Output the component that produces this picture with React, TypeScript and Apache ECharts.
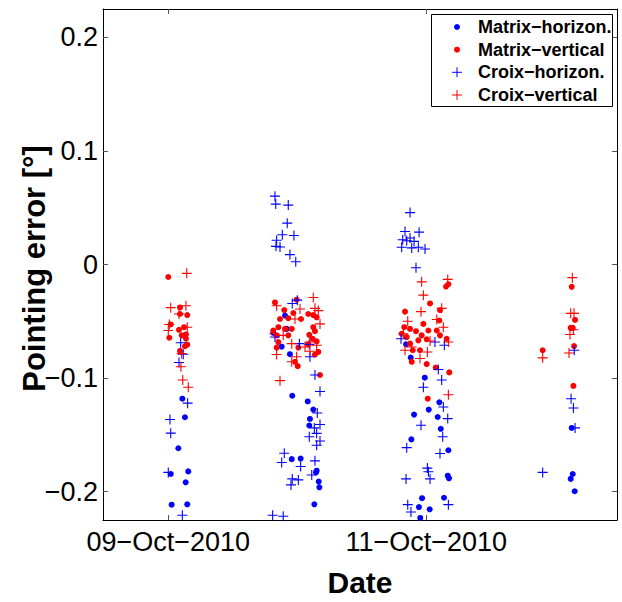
import React, { useEffect, useRef } from "react";
import * as echarts from "echarts";

// x: day of October 2010 (decimal), y: pointing error in degrees
const matrixHorizon: [number, number][] = [
  [9.109, -0.1182], [9.129, -0.1345], [9.078, -0.1618], [9.019, -0.1845], [9.155, -0.1822],
  [9.135, -0.1918], [9.026, -0.2115], [9.147, -0.2112],
  [9.905, -0.045], [9.918, -0.0567], [9.814, -0.0602], [9.879, -0.0724], [9.943, -0.079],
  [9.961, -0.1156], [10.081, -0.1206], [10.124, -0.1278], [10.098, -0.136], [10.093, -0.1418],
  [9.957, -0.1714], [10.026, -0.1709], [10.15, -0.1816], [10.145, -0.1831], [10.166, -0.1912],
  [10.171, -0.1962], [10.132, -0.2112],
  [10.879, -0.082], [10.843, -0.0703], [10.988, -0.0997], [11.101, -0.1214], [11.019, -0.1278],
  [10.905, -0.1322], [11.088, -0.1343], [11.112, -0.1447], [10.884, -0.154], [11.171, -0.1636],
  [11.166, -0.186], [11.176, -0.1883], [10.967, -0.2058], [11.137, -0.2054], [10.943, -0.2136],
  [11.026, -0.2156], [10.953, -0.2232],
  [12.127, -0.1439], [12.135, -0.1845], [12.119, -0.1888], [12.15, -0.1997],
];

const matrixVertical: [number, number][] = [
  [9.0, -0.011], [9.091, -0.0378], [9.147, -0.0445], [9.019, -0.0528], [9.008, -0.0645],
  [9.083, -0.0575], [9.122, -0.0552], [9.137, -0.0616], [9.104, -0.0624], [9.137, -0.0654],
  [9.147, -0.0706], [9.129, -0.072], [9.091, -0.0761], [9.091, -0.0436],
  [9.827, -0.0334], [9.995, -0.031], [9.899, -0.0401], [9.969, -0.0427], [9.866, -0.048],
  [9.93, -0.0473], [10.029, -0.048], [10.085, -0.0436], [10.124, -0.0445], [10.15, -0.0465],
  [9.853, -0.0552], [9.905, -0.0567], [9.957, -0.0567], [9.814, -0.0581], [10.124, -0.0552],
  [10.137, -0.0587], [9.84, -0.0624], [9.93, -0.0624], [10.093, -0.0619], [10.119, -0.0654],
  [9.853, -0.0683], [10.15, -0.0677], [9.84, -0.0732], [10.008, -0.0732], [10.085, -0.0703],
  [10.163, -0.077], [10.137, -0.0793], [9.982, -0.0857], [10.003, -0.0895], [10.176, -0.0973],
  [11.171, -0.0174], [11.153, -0.0194], [11.029, -0.0343], [10.835, -0.0415], [11.106, -0.0401],
  [11.101, -0.0493], [10.977, -0.0523], [11.016, -0.0581], [10.829, -0.0552], [10.874, -0.0567],
  [10.92, -0.0587], [10.809, -0.061], [10.848, -0.0639], [10.964, -0.0624], [11.003, -0.0659],
  [11.081, -0.0581], [11.106, -0.0624], [11.158, -0.0654], [10.938, -0.0668], [10.874, -0.0697],
  [10.895, -0.0755], [10.951, -0.0755], [10.887, -0.0857], [11.003, -0.0877], [11.073, -0.0907],
  [11.178, -0.095], [11.011, -0.1182],
  [12.127, -0.0197], [12.153, -0.0488], [12.119, -0.0558], [12.135, -0.0558], [12.145, -0.0718],
  [11.902, -0.0755], [12.14, -0.1069],
];

const croixHorizon: [number, number][] = [
  [9.096, -0.0689], [9.116, -0.079], [9.083, -0.0863], [9.15, -0.1221], [9.013, -0.1365],
  [9.019, -0.1485], [9.0, -0.1831], [9.109, -0.2208],
  [9.827, 0.0602], [9.833, 0.0532], [9.93, 0.0523], [9.922, 0.0364], [9.884, 0.0262],
  [9.974, 0.0256], [9.84, 0.0213], [9.835, 0.016], [9.866, 0.0154], [9.943, 0.0087], [9.988, 0.0024],
  [9.961, -0.0343], [10.0, -0.0314], [10.016, -0.0697], [10.093, -0.0703], [10.098, -0.0813],
  [9.827, -0.0639], [10.137, -0.0973], [10.176, -0.1119], [10.155, -0.1308], [10.176, -0.1409],
  [10.132, -0.1439], [10.15, -0.1487], [10.093, -0.1517], [10.176, -0.1554], [10.15, -0.1592],
  [9.899, -0.1662], [9.879, -0.1744], [10.137, -0.1729], [10.026, -0.1779], [10.112, -0.1854],
  [9.961, -0.1888], [10.008, -0.1897], [9.951, -0.1941], [9.809, -0.2208], [9.891, -0.2217],
  [10.874, 0.0457], [10.835, 0.0291], [10.944, 0.0285], [10.817, 0.0218], [10.874, 0.0233],
  [10.848, 0.0209], [10.905, 0.0204], [10.809, 0.0152], [10.887, 0.0146], [10.938, 0.0152],
  [10.99, 0.0137], [10.92, -0.0029],
  [11.093, -0.0924], [11.119, -0.1017], [10.977, -0.1081], [11.132, -0.1255], [11.166, -0.1357],
  [10.959, -0.1415], [11.127, -0.1517], [10.848, -0.1613], [11.106, -0.1665], [11.008, -0.1793],
  [11.016, -0.1825], [10.843, -0.1888], [11.029, -0.1888], [10.856, -0.2115], [11.171, -0.2115],
  [10.881, -0.218], [11.067, -0.0683], [11.14, -0.0711], [10.804, -0.0654],
  [12.147, -0.0755], [12.122, -0.1182], [12.14, -0.1264], [12.153, -0.1439], [11.902, -0.1831],
];

const croixVertical: [number, number][] = [
  [9.143, -0.0078], [9.019, -0.038], [9.137, -0.0363], [9.083, -0.0436], [9.008, -0.0528],
  [9.0, -0.0581], [9.147, -0.0552], [9.104, -0.0785], [9.098, -0.0901], [9.112, -0.1017],
  [9.155, -0.1081],
  [10.124, -0.029], [9.84, -0.0363], [10.021, -0.0392], [10.137, -0.0386], [10.163, -0.0406],
  [9.982, -0.048], [10.176, -0.0523], [9.822, -0.061], [9.891, -0.0624], [10.098, -0.0683],
  [9.957, -0.0697], [10.15, -0.0711], [10.06, -0.0726], [9.84, -0.0793], [9.957, -0.0857],
  [9.995, -0.0813], [10.098, -0.0764], [9.866, -0.1023],
  [10.964, -0.0153], [11.166, -0.0131], [10.977, -0.027], [10.959, -0.0415], [11.119, -0.0386],
  [10.856, -0.05], [11.081, -0.0485], [11.132, -0.0552], [10.822, -0.061], [11.029, -0.0674],
  [11.171, -0.0683], [10.835, -0.0755], [10.951, -0.0828], [11.008, -0.077], [11.171, -0.1147],
  [10.887, -0.0726],
  [12.132, -0.0116], [12.119, -0.043], [12.145, -0.043], [12.14, -0.0575], [12.114, -0.0616],
  [12.106, -0.0779], [11.902, -0.0822],
];

const seriesNames = ["Matrix\u2212horizon.", "Matrix\u2212vertical", "Croix\u2212horizon.", "Croix\u2212vertical"];
const seriesColors = ["#0000ff", "#ff0000", "#0000ff", "#ff0000"];

const xTickValues = [9, 11];
const xTickLabels = ["09\u2212Oct\u22122010", "11\u2212Oct\u22122010"];
const yTickValues = [-0.2, -0.1, 0, 0.1, 0.2];
const yTickLabels = ["\u22120.2", "\u22120.1", "0", "0.1", "0.2"];

const xMin = 8.494;
const xMax = 12.478;
const yMin = -0.225;
const yMax = 0.225;

const FONT = "'Liberation Sans', Arial, Helvetica, sans-serif";
const PLUS = "path://M4.45,0h1.1v4.45h4.45v1.1h-4.45v4.45h-1.1v-4.45h-4.45v-1.1h4.45z";

export default function App() {
  const ref = useRef<HTMLDivElement>(null);
  useEffect(() => {
    if (!ref.current) return;
    const chart = echarts.init(ref.current, undefined, { renderer: "svg" });
    const tickStyle = { lineStyle: { color: "#555", width: 1 } };
    const xAxisBase = {
      type: "value" as const,
      min: xMin,
      max: xMax,
      splitLine: { show: false },
      axisLine: { show: true, onZero: false, lineStyle: { color: "#000", width: 1 } },
    };
    const yAxisBase = {
      type: "value" as const,
      min: yMin,
      max: yMax,
      splitLine: { show: false },
      axisLine: { show: true, onZero: false, lineStyle: { color: "#000", width: 1 } },
    };
    const datasets = [matrixHorizon, matrixVertical, croixHorizon, croixVertical];
    const legendRows = [27, 49.7, 72.3, 95];
    const legendGraphics: any[] = [
      {
        type: "rect",
        shape: { x: 431.5, y: 14.5, width: 181, height: 92 },
        style: { fill: "#fff", stroke: "#000", lineWidth: 1 },
        z: 100,
      },
    ];
    seriesNames.forEach((name, i) => {
      const cy = legendRows[i];
      if (i < 2) {
        legendGraphics.push({
          type: "circle",
          shape: { cx: 457, cy, r: 3 },
          style: { fill: seriesColors[i] },
          z: 101,
        });
      } else {
        legendGraphics.push({
          type: "line",
          shape: { x1: 452, y1: cy, x2: 462, y2: cy },
          style: { stroke: seriesColors[i], lineWidth: 1 },
          z: 101,
        });
        legendGraphics.push({
          type: "line",
          shape: { x1: 457, y1: cy - 5, x2: 457, y2: cy + 5 },
          style: { stroke: seriesColors[i], lineWidth: 1 },
          z: 101,
        });
      }
      legendGraphics.push({
        type: "text",
        x: 478,
        y: cy,
        style: {
          text: name,
          fill: "#000",
          font: `bold 18px ${FONT}`,
          verticalAlign: "middle",
          align: "left",
        },
        z: 101,
      });
    });

    chart.setOption({
      animation: false,
      backgroundColor: "#fff",
      grid: { left: 103, right: 5, top: 9, bottom: 78, containLabel: false },
      xAxis: [
        {
          ...xAxisBase,
          position: "bottom",
          name: "Date",
          nameLocation: "middle",
          nameGap: 47,
          nameMoveOverlap: false,
          nameTextStyle: { fontFamily: FONT, fontSize: 30, fontWeight: "bold", color: "#000" },
          axisTick: { show: true, inside: true, length: 5, customValues: xTickValues, ...tickStyle },
          axisLabel: {
            show: true,
            customValues: xTickValues,
            margin: 8,
            fontFamily: FONT,
            fontSize: 27,
            color: "#000",
            formatter: (v: number) => {
              const i = xTickValues.findIndex((t) => Math.abs(t - v) < 1e-6);
              return i >= 0 ? xTickLabels[i] : "";
            },
          },
        },
        {
          ...xAxisBase,
          position: "top",
          axisTick: { show: true, inside: true, length: 5, customValues: xTickValues, ...tickStyle },
          axisLabel: { show: false },
        },
      ],
      yAxis: [
        {
          ...yAxisBase,
          position: "left",
          name: "Pointing error [\u00b0]",
          nameLocation: "middle",
          nameGap: 53,
          nameMoveOverlap: false,
          nameTextStyle: {
            fontFamily: FONT,
            fontSize: 31,
            fontWeight: "bold",
            color: "#000",
            padding: [0, 8, 0, 0],
          },
          axisTick: { show: true, inside: true, length: 5, customValues: yTickValues, ...tickStyle },
          axisLabel: {
            show: true,
            customValues: yTickValues,
            margin: 5,
            fontFamily: FONT,
            fontSize: 27,
            color: "#000",
            formatter: (v: number) => {
              const i = yTickValues.findIndex((t) => Math.abs(t - v) < 1e-9);
              return i >= 0 ? yTickLabels[i] : "";
            },
          },
        },
        {
          ...yAxisBase,
          position: "right",
          axisTick: { show: true, inside: true, length: 5, customValues: yTickValues, ...tickStyle },
          axisLabel: { show: false },
        },
      ],
      series: datasets.map((data, i) => ({
        type: "scatter",
        name: seriesNames[i],
        data,
        xAxisIndex: 0,
        yAxisIndex: 0,
        symbol: i < 2 ? "circle" : PLUS,
        symbolSize: i < 2 ? 6 : 10,
        symbolKeepAspect: true,
        itemStyle: { color: seriesColors[i], opacity: 1 },
        emphasis: { disabled: true },
        z: 2 + i,
      })),
      graphic: legendGraphics,
    });
    return () => chart.dispose();
  }, []);
  return (
    <div
      ref={ref}
      style={{ position: "absolute", left: 0, top: 0, width: 622, height: 602 }}
    />
  );
}
